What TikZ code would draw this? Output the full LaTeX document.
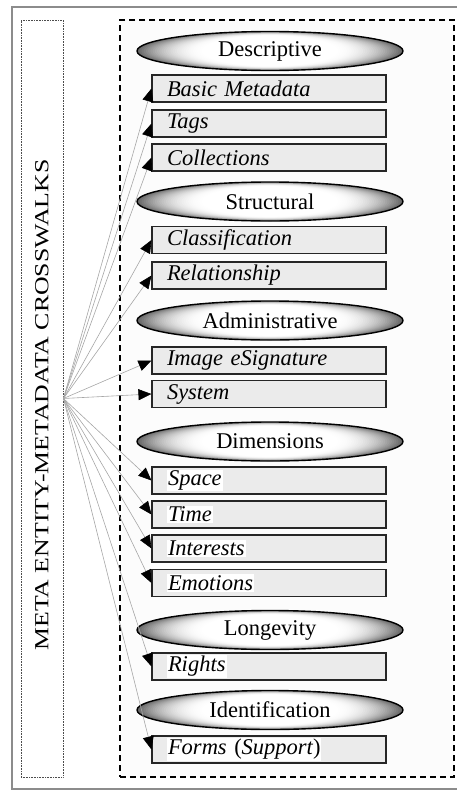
\documentclass[tikz,border=0pt]{standalone}
\usepackage{fontspec}
\setmainfont{Liberation Serif}
\usetikzlibrary{arrows.meta,shapes.geometric}
\newcommand{\hlw}[1]{{\setlength{\fboxsep}{1pt}\colorbox{white}{#1}}}
\begin{document}
\begin{tikzpicture}[x=1pt,y=-1pt,
  cat/.style={ellipse, draw=black, line width=1.4pt, minimum width=266pt, minimum height=39pt, inner sep=0pt, font=\fontsize{22.5}{24}\selectfont,
    path picture={
      \foreach \k in {0,...,30}{
        \pgfmathsetmacro\myT{\k/30}
        \pgfmathsetmacro\myA{133*(1-0.5*\myT)}
        \pgfmathsetmacro\myB{19.5*(1-0.22*\myT)}
        \pgfmathsetmacro\myG{60*(1-\myT)*(1-\myT)}
        \fill[black!\myG] (path picture bounding box.center) ellipse ({\myA} and {\myB});
      }}},
  item/.style={rectangle, draw=black!85, line width=1.1pt, fill=black!8, minimum width=234pt, minimum height=27pt, inner xsep=15pt, inner ysep=0pt, text width=204pt, align=left, font=\fontsize{22.5}{24}\selectfont\itshape},
  link/.style={draw=black!35, line width=0.6pt, -{Triangle[length=13pt,width=11pt,color=black]}},
  frame/.style={draw=black!45, line width=1.2pt}]
\useasboundingbox (0,0) rectangle (456,790);
\draw[frame] (12,7) rectangle (470,789);
\node[draw=black!70, line width=0.9pt, dash pattern=on 0.8pt off 0.8pt, minimum width=42pt, minimum height=757pt, inner sep=0pt] (lbox) at (42,398.5) {};
\node[rotate=90, font=\fontsize{20}{22}\selectfont, inner sep=0pt] (title) at (42,405) {\scalebox{1.29}[1]{META ENTITY-METADATA CROSSWALKS}};
\node[draw=black, line width=1.2pt, dash pattern=on 6pt off 4pt, fill=black!1, minimum width=334pt, minimum height=757pt, inner sep=0pt] (dbox) at (287,398.5) {};
\coordinate (src) at (lbox.east);

\node[cat] (desc) at (270,51) {Descriptive};
\node[item] (basic) at (269,88.5) {Basic Metadata};
\node[item] (tags) at (269,123.5) {Tags};
\node[item] (coll) at (269,157.5) {Collections};
\node[cat] (struct) at (270,201.5) {Structural};
\node[item] (class) at (269,240) {Classification};
\node[item] (rel) at (269,275.5) {Relationship};
\node[cat] (admin) at (270,320.5) {Administrative};
\node[item] (image) at (269,360.5) {Image eSignature};
\node[item] (sys) at (269,394) {System};
\node[cat] (dim) at (270,441.5) {Dimensions};
\node[item] (space) at (269,480.5) {\hlw{Space}};
\node[item] (time) at (269,514.5) {\hlw{Time}};
\node[item] (inter) at (269,548.5) {\hlw{Interests}};
\node[item] (emo) at (269,583) {\hlw{Emotions}};
\node[cat] (long) at (270,630) {Longevity};
\node[item] (rights) at (269,666.5) {\hlw{Rights}};
\node[cat] (ident) at (270,710) {Identification};
\node[item] (forms) at (269,749.5) {\hlw{Forms \upshape(\itshape Support\upshape)}};

\foreach \t in {basic,tags,coll,class,rel,image,sys,space,time,inter,emo,rights,forms}
  \draw[link] (src) -- (\t.west);
\end{tikzpicture}
\end{document}
